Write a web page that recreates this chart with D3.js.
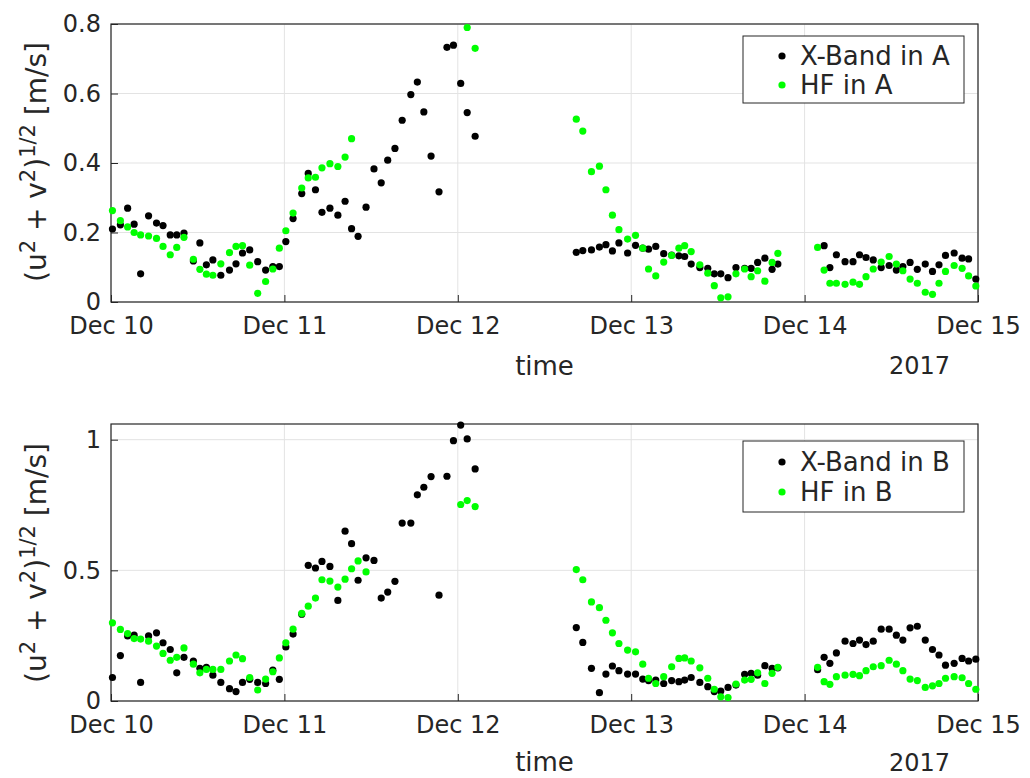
<!DOCTYPE html>
<html><head><meta charset="utf-8">
<script src="https://cdn.jsdelivr.net/npm/d3@7"></script>
<style>
body{margin:0;background:#fff}
svg{display:block}
text{font-family:"DejaVu Sans",sans-serif;fill:#262626}
</style>
</head><body><svg id="c" width="1030" height="778"></svg>
<script>
// hours after 2017-12-10 00:00 (three observation windows)
const times = [
 0.2,1.3,2.3,3.2,4.1,5.2,6.3,7.2,8.2,9.1,10.1,11.4,12.3,13.2,14.1,15.2,16.4,17.3,18.2,19.2,20.3,21.4,22.4,23.3,24.2,25.2,
 26.4,27.3,28.3,29.2,30.3,31.4,32.4,33.3,34.2,35.3,36.4,37.4,38.3,39.3,40.3,41.5,42.4,43.3,44.3,45.4,46.5,47.4,48.4,49.3,50.4,
 64.4,65.3,66.5,67.6,68.5,69.4,70.3,71.5,72.6,73.6,74.4,75.4,76.5,77.6,78.6,79.4,80.3,81.5,82.6,83.5,84.4,85.4,86.5,87.7,88.6,89.5,90.5,91.5,92.3,
 97.8,98.7,99.5,100.4,101.6,102.7,103.6,104.5,105.5,106.6,107.7,108.7,109.6,110.6,111.6,112.7,113.7,114.6,115.5,116.7,117.8,118.7,119.7
];
const xbandA = [
 0.21,0.222,0.27,0.224,0.081,0.248,0.227,0.22,0.193,0.193,0.198,0.118,0.17,0.107,0.121,0.077,0.092,0.11,0.141,0.15,0.116,0.092,0.102,0.102,0.174,0.24,
 0.312,0.37,0.323,0.258,0.27,0.25,0.29,0.211,0.189,0.273,0.383,0.343,0.408,0.442,0.523,0.597,0.633,0.547,0.42,0.317,0.733,0.739,0.629,0.545,0.477,
 0.143,0.148,0.15,0.158,0.165,0.147,0.17,0.141,0.163,0.155,0.152,0.16,0.139,0.135,0.133,0.131,0.109,0.099,0.097,0.081,0.081,0.07,0.099,0.097,0.097,0.114,0.126,0.094,0.109,
 null,0.162,0.099,0.136,0.116,0.116,0.136,0.128,0.121,0.099,0.105,0.092,0.102,0.114,0.094,0.109,0.088,0.107,0.134,0.141,0.126,0.124,0.066
];
const hfA = [
 0.263,0.234,0.216,0.2,0.193,0.19,0.183,0.16,0.136,0.157,0.186,0.123,0.094,0.08,0.077,0.11,0.142,0.16,0.162,0.106,0.025,0.059,0.095,0.155,0.205,0.256,
 0.328,0.357,0.359,0.386,0.398,0.39,0.417,0.47,null,null,null,null,null,null,null,null,null,null,null,null,null,null,null,0.79,0.73,
 0.526,0.492,0.375,0.391,0.323,0.25,0.208,0.181,0.192,0.155,0.095,0.075,0.115,0.134,0.155,0.162,0.145,0.107,0.083,0.047,0.012,0.015,0.081,0.095,0.073,0.09,0.06,0.114,0.14,
 0.157,0.092,0.054,0.054,0.051,0.057,0.051,0.073,0.095,0.115,0.131,0.109,0.09,0.066,0.054,0.028,0.022,0.054,0.088,0.105,0.097,0.075,0.046
];
const xbandB = [
 0.09,0.174,0.249,0.252,0.071,0.249,0.261,0.223,0.197,0.108,0.167,0.153,0.125,0.129,0.099,0.071,0.047,0.036,0.071,0.083,0.071,0.067,0.118,0.083,0.207,0.256,
 0.332,0.519,0.509,0.534,0.515,0.385,0.65,0.602,0.462,0.548,0.538,0.394,0.417,0.458,0.681,0.681,0.789,0.818,0.859,0.405,0.86,0.996,1.056,1.003,0.888,
 0.281,0.224,0.125,0.032,0.103,0.134,0.116,0.103,0.103,0.084,0.078,0.08,0.067,0.078,0.074,0.08,0.09,0.071,0.055,0.036,0.038,0.052,0.061,0.102,0.106,0.099,0.135,0.125,0.127,
 0.12,0.167,0.144,0.184,0.229,0.22,0.233,0.216,0.229,0.275,0.275,0.252,0.233,0.28,0.286,0.233,0.197,0.176,0.137,0.144,0.163,0.153,0.16
];
const hfB = [
 0.299,0.274,0.258,0.239,0.237,0.229,0.21,0.182,0.156,0.167,0.203,0.141,0.108,0.121,0.121,0.121,0.153,0.176,0.162,0.09,0.042,0.084,0.112,0.165,0.223,0.275,
 0.335,0.363,0.394,0.464,0.459,0.436,0.466,0.506,0.536,0.494,null,null,null,null,null,null,null,null,null,null,null,null,0.752,0.767,0.744,
 0.503,0.464,0.379,0.357,0.309,0.261,0.22,0.195,0.188,0.141,0.087,0.067,0.093,0.131,0.163,0.165,0.153,0.127,0.087,0.045,0.016,0.013,0.065,0.08,0.083,0.108,0.067,0.106,0.129,
 0.129,0.074,0.064,0.093,0.099,0.102,0.097,0.116,0.131,0.135,0.156,0.141,0.116,0.084,0.078,0.052,0.058,0.067,0.087,0.093,0.089,0.067,0.045
];
const dayTicks = ["2017-12-10","2017-12-11","2017-12-12","2017-12-13","2017-12-14","2017-12-15"];
const yTicksA = [0,0.2,0.4,0.6,0.8];
const yTicksB = [0,0.5,1];
const legendA = ["X-Band in A","HF in A"];
const legendB = ["X-Band in B","HF in B"];
const yearLabel = "2017";
const xLabel = "time";

const svg = d3.select("#c");
const base = new Date(2017,11,10);
const parse = d3.timeParse("%Y-%m-%d");
const dates = times.map(h => d3.timeMinute.offset(base, Math.round(h*60)));
const fmt = d3.timeFormat("%b %d");
const BLACK = "#000000", GREEN = "#00ff00", AX = "#262626", GRID = "#e3e3e3";

function panel(cfg){
  const {top,bottom,left,right,ymax,yticks,yfmt,sx,sy,series,legend,leg,lblY,yrY} = cfg;
  const x = d3.scaleTime().domain([parse(dayTicks[0]), parse(dayTicks[dayTicks.length-1])]).range([left,right]);
  const y = d3.scaleLinear().domain([0,ymax]).range([bottom,top]);
  const g = svg.append("g");
  g.selectAll(".gx").data(dayTicks.map(parse)).enter().append("line")
    .attr("x1",d=>x(d)).attr("x2",d=>x(d)).attr("y1",top).attr("y2",bottom)
    .attr("stroke",GRID).attr("stroke-width",1);
  g.selectAll(".gy").data(yticks).enter().append("line")
    .attr("x1",left).attr("x2",right).attr("y1",d=>y(d)).attr("y2",d=>y(d))
    .attr("stroke",GRID).attr("stroke-width",1);
  const xa = g.append("g").attr("transform",`translate(0,${bottom})`)
    .call(d3.axisBottom(x).tickValues(dayTicks.map(parse)).tickFormat(fmt).tickSizeInner(-7).tickSizeOuter(0).tickPadding(15));
  xa.select(".domain").remove();
  xa.selectAll("line").attr("stroke",AX);
  xa.selectAll("text").attr("font-size",24).attr("fill",AX).style("font-family","DejaVu Sans");
  const ya = g.append("g").attr("transform",`translate(${left},0)`)
    .call(d3.axisLeft(y).tickValues(yticks).tickFormat(yfmt).tickSizeInner(-7).tickSizeOuter(0).tickPadding(10));
  ya.select(".domain").remove();
  ya.selectAll("line").attr("stroke",AX);
  ya.selectAll("text").attr("font-size",24).attr("fill",AX).style("font-family","DejaVu Sans");
  g.append("rect").attr("x",left).attr("y",top).attr("width",right-left).attr("height",bottom-top)
    .attr("fill","none").attr("stroke",AX).attr("stroke-width",1.2);
  series.forEach(s=>{
    const pts = dates.map((d,i)=>({d,v:s.values[i]})).filter(p=>p.v!==null);
    g.append("g").selectAll("circle").data(pts).enter().append("circle")
      .attr("cx",p=>x(p.d)).attr("cy",p=>y(p.v)).attr("r",3.6).attr("fill",s.color);
  });
  g.append("text").attr("x",(left+right)/2).attr("y",lblY).attr("text-anchor","middle")
    .attr("font-size",26).text(xLabel);
  g.append("text").attr("x",950).attr("y",yrY).attr("text-anchor","end")
    .attr("font-size",24).text(yearLabel);
  const yl = g.append("text").attr("transform",`translate(${sx},${sy}) rotate(-90)`)
    .attr("text-anchor","middle").attr("font-size",28);
  yl.append("tspan").text("(u");
  yl.append("tspan").attr("dy",-11).attr("font-size",21).text("2");
  yl.append("tspan").attr("dy",11).text(" + v");
  yl.append("tspan").attr("dy",-11).attr("font-size",21).text("2");
  yl.append("tspan").attr("dy",11).text(")");
  yl.append("tspan").attr("dy",-11).attr("font-size",21).text("1/2");
  yl.append("tspan").attr("dy",11).text(" [m/s]");
  g.append("rect").attr("x",leg.x).attr("y",leg.y).attr("width",leg.w).attr("height",leg.h)
    .attr("fill","#fff").attr("stroke",AX).attr("stroke-width",1);
  legend.forEach((t,i)=>{
    const cy = leg.y + leg.first + i*leg.step;
    g.append("circle").attr("cx",leg.x+39).attr("cy",cy).attr("r",3.6).attr("fill",series[i].color);
    g.append("text").attr("x",leg.x+57).attr("y",cy).attr("dy","0.36em").attr("font-size",26).text(t);
  });
}

panel({top:24,bottom:302,left:111,right:978,ymax:0.8,yticks:yTicksA,yfmt:d=>d===0?"0":d3.format(".1f")(d),
  sx:46,sy:162,series:[{values:xbandA,color:BLACK},{values:hfA,color:GREEN}],legend:legendA,
  leg:{x:743,y:36,w:221,h:67,first:20,step:29},lblY:375,yrY:374});
panel({top:424,bottom:701,left:111,right:978,ymax:1.06,yticks:yTicksB,yfmt:d=>d===0?"0":(d===1?"1":d3.format(".1f")(d)),
  sx:46,sy:563,series:[{values:xbandB,color:BLACK},{values:hfB,color:GREEN}],legend:legendB,
  leg:{x:743,y:441,w:221,h:71,first:21,step:30},lblY:771,yrY:771});
</script></body></html>
